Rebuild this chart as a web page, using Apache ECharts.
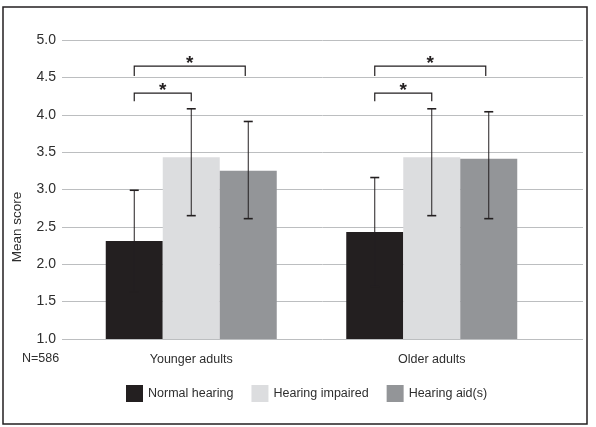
<!DOCTYPE html>
<html>
<head>
<meta charset="utf-8">
<script src="https://cdn.jsdelivr.net/npm/echarts@6/dist/echarts.min.js"></script>
<style>
  html, body { margin: 0; padding: 0; background: #fff; }
  #chart { width: 596px; height: 427px; }
</style>
</head>
<body>
<div id="chart"></div>
<script>
const categories = ['Younger adults', 'Older adults']
const groups = ['Normal hearing', 'Hearing impaired', 'Hearing aid(s)']
const colors = ['#231f20', '#dcdddf', '#939598']

// mean score per group, one value per category
const meanNormal = [2.31, 2.43]
const meanImpaired = [3.43, 3.43]
const meanAid = [3.25, 3.41]

// error bar ends
const lowNormal = [1.63, 1.70]
const highNormal = [2.99, 3.16]
const lowImpaired = [2.65, 2.65]
const highImpaired = [4.08, 4.08]
const lowAid = [2.61, 2.61]
const highAid = [3.91, 4.04]

// [category, from bar, to bar, bracket level, leg end]
const brackets = [
  [0, 0, 1, 4.29, 4.18],
  [0, 0, 2, 4.65, 4.52],
  [1, 0, 1, 4.29, 4.18],
  [1, 0, 2, 4.65, 4.52]
]

const yTicks = { min: 1, max: 5, interval: 0.5 }
const sampleLabel = 'N=586'

const BAR_W = 57
const INK = '#231f20'
const TEXT = '#2e2e2e'
const FONT = '"Liberation Sans", Arial, sans-serif'

const means = [meanNormal, meanImpaired, meanAid]
const lows = [lowNormal, lowImpaired, lowAid]
const highs = [highNormal, highImpaired, highAid]

const errData = []
groups.forEach((g, s) => {
  categories.forEach((c, i) => errData.push([i, lows[s][i], highs[s][i], s]))
})

const chart = echarts.init(document.getElementById('chart'), null, { renderer: 'canvas' })

chart.setOption({
  animation: false,
  backgroundColor: '#fff',
  grid: [
    { left: 62, right: 13, top: 40, bottom: 88 },
    { left: 71, width: 481, top: 40, bottom: 88 }
  ],
  xAxis: [
    { gridIndex: 0, type: 'value', show: false, min: 0, max: 1 },
    {
      gridIndex: 1,
      type: 'category',
      data: categories,
      axisLine: { show: false },
      axisTick: { show: false },
      axisLabel: { color: TEXT, fontFamily: FONT, fontSize: 12.5, margin: 14 }
    }
  ],
  yAxis: [
    {
      gridIndex: 0,
      type: 'value',
      ...yTicks,
      axisLine: { show: false },
      axisTick: { show: false },
      axisLabel: {
        color: TEXT, fontFamily: FONT, fontSize: 14, margin: 6,
        formatter: v => v.toFixed(1)
      },
      splitLine: { lineStyle: { color: '#bcbec0', width: 1 } }
    },
    { gridIndex: 1, type: 'value', ...yTicks, show: false }
  ],
  legend: {
    data: groups,
    left: 126,
    top: 385,
    padding: 0,
    icon: 'rect',
    itemWidth: 17,
    itemHeight: 17,
    itemGap: 18,
    textStyle: { color: TEXT, fontFamily: FONT, fontSize: 12.5 }
  },
  series: [
    ...groups.map((g, s) => ({
      name: g,
      type: 'bar',
      xAxisIndex: 1,
      yAxisIndex: 1,
      data: means[s],
      barWidth: BAR_W,
      barGap: '0%',
      itemStyle: { color: colors[s] }
    })),
    {
      type: 'custom',
      xAxisIndex: 1,
      yAxisIndex: 1,
      data: errData,
      encode: { x: 0, y: [1, 2] },
      z: 5,
      renderItem(params, api) {
        const s = api.value(3)
        const x = api.coord([api.value(0), 0])[0] + (s - 1) * BAR_W
        const yLo = api.coord([api.value(0), api.value(1)])[1]
        const yHi = api.coord([api.value(0), api.value(2)])[1]
        const cap = 4.5
        const line = { stroke: INK, lineWidth: 1 }
        return {
          type: 'group',
          children: [
            { type: 'line', shape: { x1: x, y1: yLo, x2: x, y2: yHi }, style: line },
            { type: 'line', shape: { x1: x - cap, y1: yHi, x2: x + cap, y2: yHi }, style: { stroke: INK, lineWidth: 1.6 } },
            { type: 'line', shape: { x1: x - cap, y1: yLo, x2: x + cap, y2: yLo }, style: { stroke: INK, lineWidth: 1.6 } }
          ]
        }
      }
    },
    {
      type: 'custom',
      xAxisIndex: 1,
      yAxisIndex: 1,
      data: brackets,
      encode: { x: 0, y: 3 },
      z: 5,
      renderItem(params, api) {
        const c = api.value(0)
        const cx = api.coord([c, 0])[0]
        const x1 = cx + (api.value(1) - 1) * BAR_W
        const x2 = cx + (api.value(2) - 1) * BAR_W - (api.value(2) === 2 ? 3 : 0)
        const y = api.coord([c, api.value(3)])[1]
        const yLeg = api.coord([c, api.value(4)])[1]
        return {
          type: 'group',
          children: [
            {
              type: 'polyline',
              shape: { points: [[x1, yLeg], [x1, y], [x2, y], [x2, yLeg]] },
              style: { stroke: INK, lineWidth: 1.2, fill: 'none' }
            },
            {
              type: 'text',
              x: (x1 + x2) / 2,
              y: y - 2,
              style: {
                text: '*', fill: INK, fontFamily: FONT, fontSize: 19, fontWeight: 'bold',
                align: 'center', verticalAlign: 'middle'
              }
            }
          ]
        }
      }
    }
  ],
  graphic: [
    {
      type: 'rect',
      shape: { x: 3, y: 7, width: 584, height: 417 },
      style: { fill: 'none', stroke: INK, lineWidth: 1.5 }
    },
    {
      type: 'text',
      x: 17,
      y: 227,
      rotation: Math.PI / 2,
      style: {
        text: 'Mean score', fill: TEXT, fontFamily: FONT, fontSize: 13.5,
        align: 'center', verticalAlign: 'middle'
      }
    },
    {
      type: 'text',
      x: 22,
      y: 359,
      style: {
        text: sampleLabel, fill: TEXT, fontFamily: FONT, fontSize: 12.5,
        align: 'left', verticalAlign: 'middle'
      }
    }
  ]
})
</script>
</body>
</html>
